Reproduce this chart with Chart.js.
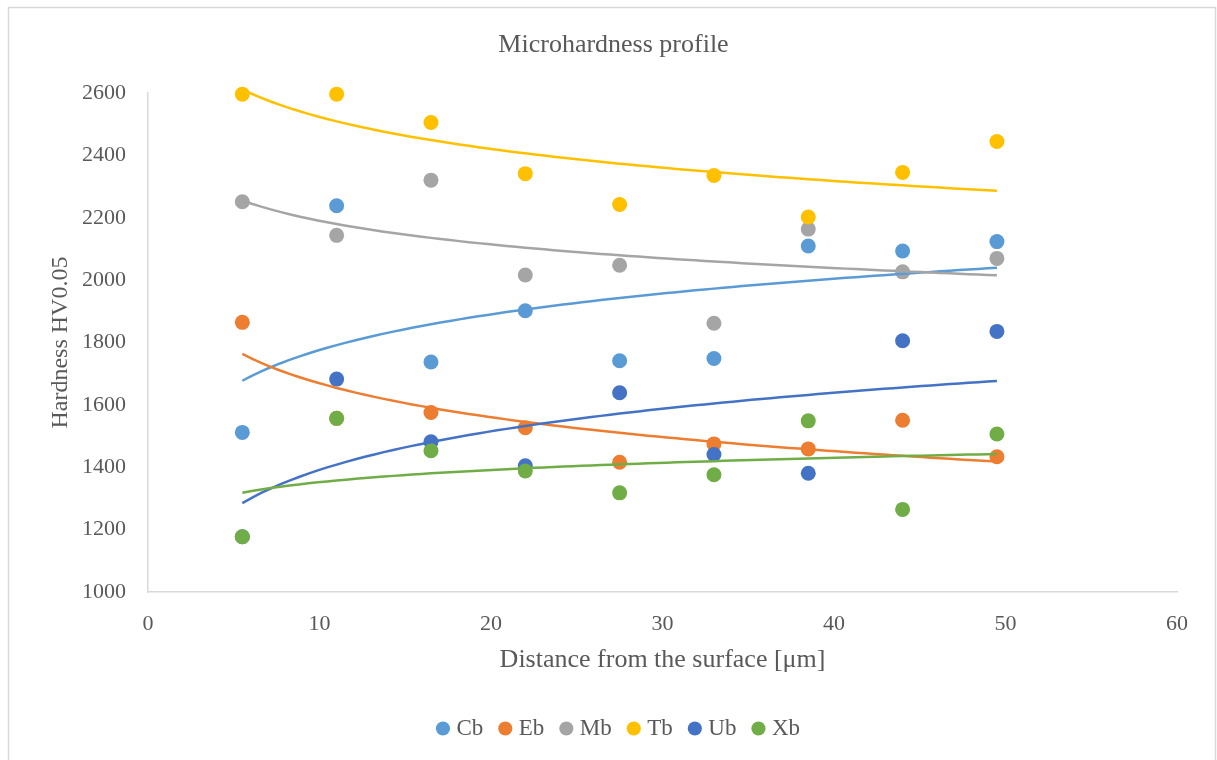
<!DOCTYPE html>
<html>
<head>
<meta charset="utf-8">
<title>Microhardness profile</title>
<script src="https://cdn.jsdelivr.net/npm/chart.js@4/dist/chart.umd.min.js"></script>
<style>
  html, body { margin: 0; padding: 0; background: #ffffff; }
  #wrap { position: relative; width: 1217px; height: 760px; }
</style>
</head>
<body>
<div id="wrap"><canvas id="chart" width="1217" height="760"></canvas></div>
<script>
// Measurement depths (µm) and hardness HV0.05 for each sample
const depths = [5.5, 11, 16.5, 22, 27.5, 33, 38.5, 44, 49.5];
const seriesNames = ['Cb', 'Eb', 'Mb', 'Tb', 'Ub', 'Xb'];
const Cb = [1512, 2239, 1738, 1902, 1742, 1749, 2110, 2094, 2124];
const Eb = [1865, 1557, 1576, 1527, 1416, 1475, 1459, 1551, 1434];
const Mb = [2252, 2144, 2321, 2017, 2048, 1862, 2164, 2027, 2070];
const Tb = [2597, 2597, 2506, 2342, 2243, 2336, 2203, 2346, 2445];
const Ub = [1177, 1683, 1482, 1405, 1639, 1441, 1381, 1806, 1836];
const Xb = [1177, 1557, 1453, 1388, 1318, 1376, 1549, 1265, 1507];
const seriesValues = [Cb, Eb, Mb, Tb, Ub, Xb];
const seriesColors = ['#5B9BD5', '#ED7D31', '#A5A5A5', '#FFC000', '#4472C4', '#70AD47'];

const xTicks = [0, 10, 20, 30, 40, 50, 60];
const yTicks = [1000, 1200, 1400, 1600, 1800, 2000, 2200, 2400, 2600];

const TEXT = '#595959';
const SERIF = '"Liberation Serif", "Times New Roman", serif';

// Least-squares fit y = a*ln(x) + b (logarithmic trendline)
function logFit(xs, ys) {
  const lx = xs.map(Math.log);
  const n = xs.length;
  const mx = lx.reduce((s, v) => s + v, 0) / n;
  const my = ys.reduce((s, v) => s + v, 0) / n;
  let sxy = 0, sxx = 0;
  for (let i = 0; i < n; i++) {
    sxy += (lx[i] - mx) * (ys[i] - my);
    sxx += (lx[i] - mx) * (lx[i] - mx);
  }
  const a = sxy / sxx;
  const b = my - a * mx;
  return x => a * Math.log(x) + b;
}

function trendPoints(ys) {
  const f = logFit(depths, ys);
  const x0 = depths[0], x1 = depths[depths.length - 1];
  const steps = 80;
  const pts = [];
  for (let i = 0; i <= steps; i++) {
    const x = x0 + (x1 - x0) * i / steps;
    pts.push({ x: x, y: f(x) });
  }
  return pts;
}

const datasets = [];
seriesNames.forEach((name, i) => {
  datasets.push({
    label: name,
    data: depths.map((x, j) => ({ x: x, y: seriesValues[i][j] })),
    backgroundColor: seriesColors[i],
    borderColor: seriesColors[i],
    pointRadius: 7.5,
    pointHoverRadius: 7.5,
    pointBorderWidth: 0,
    pointStyle: 'circle',
    showLine: false,
    clip: false,
    order: 20 - i
  });
});
seriesNames.forEach((name, i) => {
  datasets.push({
    label: name + ' trend',
    type: 'line',
    data: trendPoints(seriesValues[i]),
    borderColor: seriesColors[i],
    backgroundColor: seriesColors[i],
    borderWidth: 2.5,
    pointRadius: 0,
    pointHoverRadius: 0,
    fill: false,
    tension: 0,
    clip: false,
    order: 6 - i
  });
});

// Light outer frame around the whole chart; title and legend sit slightly right of the plot centre
const framePlugin = {
  id: 'frame',
  afterLayout(chart) {
    if (chart.titleBlock) { chart.titleBlock.left += 21; chart.titleBlock.right += 21; }
    if (chart.legend) { chart.legend.left += 28; chart.legend.right += 28; }
  },
  beforeDraw(chart) {
    const ctx = chart.ctx;
    ctx.save();
    ctx.fillStyle = '#ffffff';
    ctx.fillRect(0, 0, chart.width, chart.height);
    ctx.strokeStyle = '#D9D9D9';
    ctx.lineWidth = 1.5;
    ctx.strokeRect(8.5, 7.5, chart.width - 10, chart.height + 10);
    ctx.restore();
  }
};

new Chart(document.getElementById('chart'), {
  type: 'scatter',
  data: { datasets: datasets },
  plugins: [framePlugin],
  options: {
    responsive: false,
    animation: false,
    devicePixelRatio: 1,
    layout: { padding: { left: 8, right: 40, top: 0, bottom: 10 } },
    plugins: {
      title: {
        display: true,
        text: 'Microhardness profile',
        color: TEXT,
        font: { family: SERIF, size: 26, weight: 'normal' },
        padding: { top: 30, bottom: 32 }
      },
      legend: {
        display: true,
        position: 'bottom',
        labels: {
          color: TEXT,
          font: { family: SERIF, size: 23 },
          usePointStyle: true,
          pointStyle: 'circle',
          boxWidth: 4,
          boxHeight: 10,
          padding: 20,
          filter: item => item.datasetIndex < seriesNames.length,
          sort: (a, b) => a.datasetIndex - b.datasetIndex
        }
      },
      tooltip: { enabled: false }
    },
    scales: {
      x: {
        type: 'linear',
        min: 0,
        max: 60,
        afterBuildTicks: scale => { scale.ticks = xTicks.map(v => ({ value: v })); },
        afterFit: scale => { scale.height = 105; },
        grid: { display: false, drawTicks: false },
        border: { display: true, color: '#D9D9D9', width: 1.5 },
        ticks: { color: TEXT, font: { family: SERIF, size: 22 }, padding: 19, maxRotation: 0, callback: v => String(v) },
        title: {
          display: true,
          text: 'Distance from the surface [μm]',
          color: TEXT,
          font: { family: SERIF, size: 26 },
          padding: { top: 0, bottom: 21 }
        }
      },
      y: {
        type: 'linear',
        min: 1000,
        max: 2600,
        afterBuildTicks: scale => { scale.ticks = yTicks.map(v => ({ value: v })); },
        afterFit: scale => { scale.width = 140; },
        grid: { display: false, drawTicks: false },
        border: { display: true, color: '#D9D9D9', width: 1.5 },
        ticks: { color: TEXT, font: { family: SERIF, size: 22 }, padding: 22, callback: v => String(v) },
        title: {
          display: true,
          text: 'Hardness HV0.05',
          color: TEXT,
          font: { family: SERIF, size: 24 },
          padding: { top: 38, bottom: 0 }
        }
      }
    }
  }
});
</script>
</body>
</html>
